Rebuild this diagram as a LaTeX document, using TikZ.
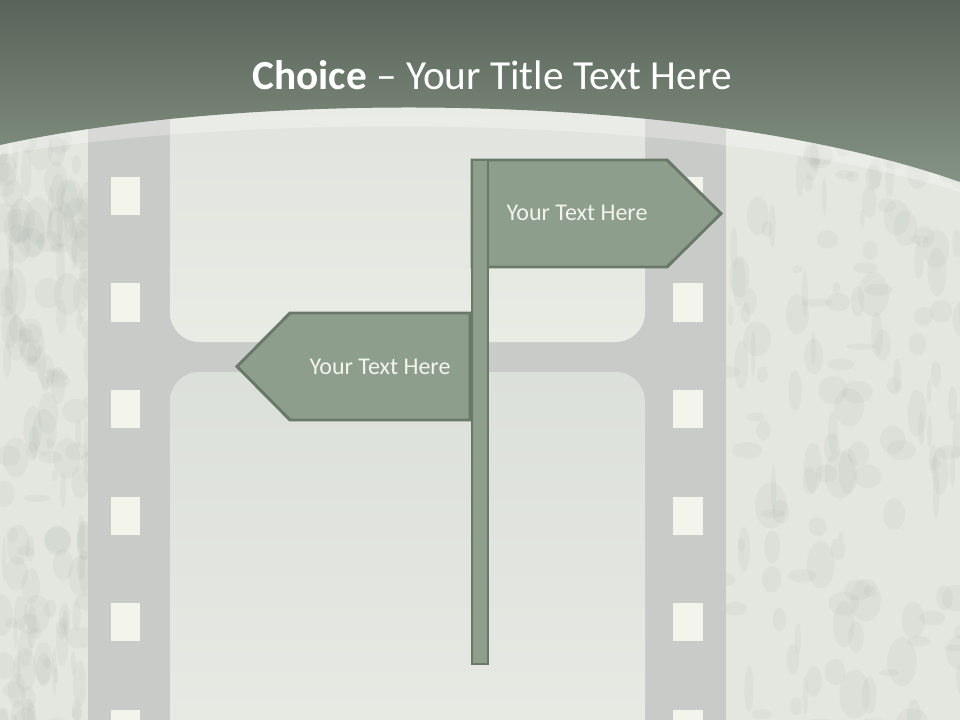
\documentclass[tikz,border=0pt]{standalone}
\usepackage{fontspec}
\setmainfont{Carlito}
\usetikzlibrary{positioning}
\definecolor{headdark}{HTML}{59645A}
\definecolor{headlow}{HTML}{849383}
\definecolor{signfill}{HTML}{8E9E8D}
\definecolor{signline}{HTML}{6A7869}
\definecolor{filmgray}{HTML}{C9CBC8}
\definecolor{framelight}{HTML}{DCE0DA}
\definecolor{framelow}{HTML}{E9EBE5}
\definecolor{perfwhite}{HTML}{F3F4EC}
\definecolor{grungelight}{HTML}{E4E7E0}
\definecolor{grungedark}{HTML}{A9B0A8}

\begin{document}
\begin{tikzpicture}[x=0.75pt, y=-0.75pt,
    signbox/.style={draw=signline, fill=signfill, line width=2.2pt, line join=miter},
    signtext/.style={text=perfwhite, font=\fontsize{18}{22}\selectfont},
    filmframe/.style={rounded corners=22pt, top color=framelight, bottom color=framelow},
    perf/.style={fill=perfwhite}
]
\useasboundingbox (0,0) rectangle (960,720);
\clip (0,0) rectangle (960,720);

% background and worn edges
\shade[top color=framelight, bottom color=framelow] (0,0) rectangle (960,720);
\fill[grungelight] (0,0) rectangle (88,720);
\fill[grungelight] (726,0) rectangle (960,720);
\pgfmathsetseed{12}
\foreach \i in {1,...,150}{
  \fill[grungedark, opacity=0.12] ({rnd*92},{140+rnd*590}) ellipse ({2+rnd*12} and {3+rnd*22});
  \fill[grungedark, opacity=0.12] ({724+rnd*240},{140+rnd*590}) ellipse ({2+rnd*14} and {3+rnd*22});
}

% film strip
\fill[filmgray] (88,0) rectangle (726,720);
\shade[filmframe] (170,-40) rectangle (645,342);
\shade[filmframe] (170,372) rectangle (645,780);
\foreach \y in {177,283.5,390,496.5,603,709.5}{
  \fill[perf] (111,\y) rectangle (140,\y+38);
  \fill[perf] (673,\y) rectangle (703,\y+38);
}

% header
\fill[white, opacity=0.28] (0,145) .. controls (250,90) and (700,90) .. (960,182)
  -- (960,192) .. controls (700,112) and (250,112) .. (0,155) -- cycle;
\shade[top color=headdark, bottom color=headlow] (0,0) -- (960,0) -- (960,182)
  .. controls (700,90) and (250,90) .. (0,145) -- cycle;
\node[text=white, font=\fontsize{31}{37}\selectfont] (title) at (492,75)
  {\textbf{Choice} -- Your Title Text Here};

% signpost
\draw[signbox] (472,160) -- (667,160) -- (721,213.5) -- (667,267) -- (472,267) -- cycle;
\draw[signbox] (472,160) rectangle (488,664);
\draw[signbox] (470,313) -- (290,313) -- (237,366.5) -- (290,420) -- (470,420) -- cycle;
\node[signtext] (textR) at (577,213) {Your Text Here};
\node[signtext] (textL) at (380,367) {Your Text Here};
\end{tikzpicture}
\end{document}
